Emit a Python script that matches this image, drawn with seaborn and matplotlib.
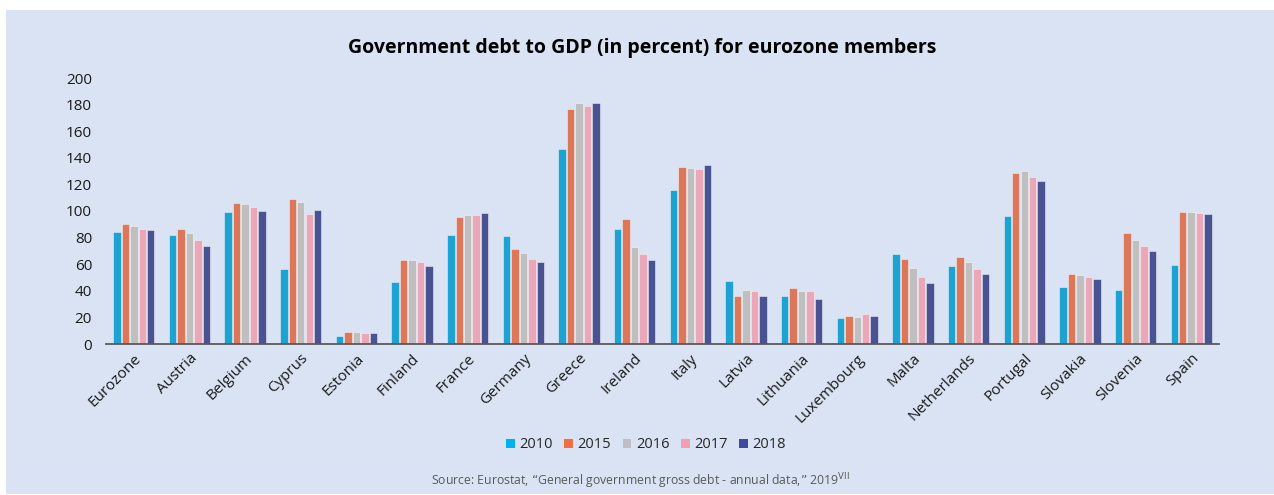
import matplotlib
matplotlib.use("Agg")
import matplotlib.pyplot as plt
import matplotlib.patches as mpatches
import seaborn as sns
import pandas as pd

countries = ["Eurozone", "Austria", "Belgium", "Cyprus", "Estonia", "Finland", "France",
             "Germany", "Greece", "Ireland", "Italy", "Latvia", "Lithuania", "Luxembourg",
             "Malta", "Netherlands", "Portugal", "Slovakia", "Slovenia", "Spain"]
years = ["2010", "2015", "2016", "2017", "2018"]

debt_2010 = [84.0, 82.2, 99.5, 56.1, 6.3, 46.9, 81.7, 81.0, 146.4, 86.7, 115.5, 47.4,
             36.1, 19.8, 67.7, 58.6, 96.2, 43.1, 40.6, 59.6]
debt_2015 = [90.5, 86.2, 105.8, 109.0, 9.3, 63.2, 95.7, 71.2, 177.0, 93.7, 132.8, 36.1,
             42.4, 21.0, 63.9, 65.2, 128.8, 52.6, 83.2, 99.0]
debt_2016 = [88.7, 83.5, 105.5, 107.0, 9.0, 63.2, 96.7, 68.2, 181.2, 72.7, 132.3, 40.6,
             40.1, 20.5, 57.4, 61.7, 130.0, 51.6, 78.2, 99.0]
debt_2017 = [86.5, 78.2, 103.0, 97.5, 8.5, 61.4, 97.0, 63.9, 179.0, 67.7, 131.8, 39.8,
             39.6, 22.6, 50.4, 56.4, 125.6, 50.6, 73.7, 98.2]
debt_2018 = [85.7, 73.7, 99.7, 100.5, 8.0, 58.9, 98.5, 61.7, 181.2, 63.4, 134.8, 36.1,
             33.8, 20.8, 45.6, 52.4, 122.3, 49.1, 70.2, 97.5]

colors = ["#00b0f0", "#f26d43", "#bfbfbf", "#f59cb1", "#3e4a9e"]
panel_bg = "#dae3f3"

series = [debt_2010, debt_2015, debt_2016, debt_2017, debt_2018]
df = pd.DataFrame({
    "country": [c for _ in years for c in countries],
    "year": [y for y in years for _ in countries],
    "debt": [v for s in series for v in s],
})

sns.set_theme(style="white")
plt.rcParams["font.family"] = ["Open Sans", "DejaVu Sans"]

fig = plt.figure(figsize=(12.74, 4.95), dpi=100)
fig.patch.set_facecolor("white")
# light blue panel behind the whole chart
fig.add_artist(mpatches.Rectangle((6 / 1274, 0.002), 1 - 6 / 1274, 1 - 10 / 495 - 0.002,
                                  transform=fig.transFigure, facecolor=panel_bg,
                                  edgecolor="none", zorder=0))

ax = fig.add_axes([106 / 1274, 1 - 344 / 495, (1219 - 106) / 1274, (344 - 78) / 495])
ax.set_facecolor("none")

sns.barplot(data=df, x="country", y="debt", hue="year", order=countries,
            hue_order=years, palette=colors, width=0.76, gap=0.12,
            edgecolor=(1, 1, 1, 0.45), linewidth=0.7, legend=False, ax=ax)

ax.set_xlim(-0.5, len(countries) - 0.5)
ax.set_ylim(0, 200)
ax.set_yticks(range(0, 201, 20))
ax.set_xlabel("")
ax.set_ylabel("")
for side in ["top", "right", "left"]:
    ax.spines[side].set_visible(False)
ax.spines["bottom"].set_color("#595959")
ax.spines["bottom"].set_linewidth(1.3)
ax.tick_params(axis="both", length=0, labelsize=11, colors="#1a1a1a")
ax.tick_params(axis="y", pad=10)
ax.tick_params(axis="x", pad=5)
plt.setp(ax.get_xticklabels(), rotation=45, ha="right", rotation_mode="anchor")

fig.text(0.504, 1 - 48 / 495, "Government debt to GDP (in percent) for eurozone members",
         ha="center", va="center", fontsize=14, fontweight="bold", color="#000000")

handles = [mpatches.Patch(facecolor=c, edgecolor="none", label=y) for c, y in zip(colors, years)]
fig.legend(handles=handles, loc="center", bbox_to_anchor=(0.507, 1 - 445 / 495), ncol=5,
           frameon=False, fontsize=10.5, handlelength=0.6, handleheight=0.6,
           handletextpad=0.3, columnspacing=0.8)

fig.text(0.503, 1 - 481 / 495,
         "Source: Eurostat, \u201cGeneral government gross debt - annual data,\u201d 2019$^{\\mathrm{VII}}$",
         ha="center", va="center", fontsize=8.8, color="#595959")

fig.savefig("out.png", dpi=100, facecolor=fig.get_facecolor())
